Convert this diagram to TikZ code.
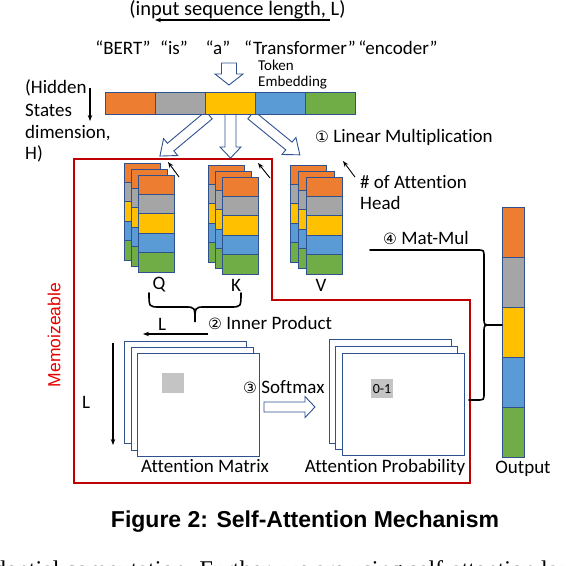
\documentclass[tikz,border=0pt]{standalone}
\usepackage{fontspec}
\setmainfont{Carlito}[Ligatures={NoCommon}]
\newfontfamily\symf{DejaVu Sans}
\newfontfamily\arialf{Liberation Sans}
\newfontfamily\timesf{Liberation Serif}
\usetikzlibrary{arrows.meta}
\definecolor{cO}{HTML}{ED7D31}
\definecolor{cG}{HTML}{A5A5A5}
\definecolor{cY}{HTML}{FFC000}
\definecolor{cB}{HTML}{5B9BD5}
\definecolor{cN}{HTML}{70AD47}
\definecolor{edge}{HTML}{2F528F}
\definecolor{boxred}{HTML}{C00000}
\definecolor{memored}{HTML}{E60000}
\definecolor{lgray}{HTML}{C4C4C4}
\newcommand\cnum[1]{{\symf\fontsize{15.5}{16}\selectfont #1}}
\newcommand\mystack[2]{\foreach \cc [count=\ii from 0] in {cO,cG,cY,cB,cN}{\draw[seg,fill=\cc] ({#1},{#2+\ii*19.4}) rectangle ++(36,19.4);}}
\newcommand\harr[7]{\begin{scope}[shift={(#1,#2)},rotate=#3]\draw[hollow] (0,-#5) -- ({#4-#7},-#5) -- ({#4-#7},-#6) -- (#4,0) -- ({#4-#7},#6) -- ({#4-#7},#5) -- (0,#5) -- cycle;\end{scope}}
\begin{document}
\begin{tikzpicture}[x=1pt,y=-1pt,
  txt/.style={inner sep=0pt,font=\fontsize{19}{22}\selectfont},
  small/.style={inner sep=0pt,font=\fontsize{15}{18}\selectfont},
  seg/.style={draw=edge,line width=0.9pt},
  hollow/.style={draw=edge,fill=white,line width=0.9pt,line join=miter},
  sheet/.style={draw=edge,fill=white,line width=0.9pt},
  redbox/.style={draw=boxred,line width=1.5pt},
  ptr/.style={black,line width=0.9pt,-{Stealth[length=6pt,width=4.5pt]}},
  dimarrow/.style={black,line width=1.1pt,-{Stealth[length=6pt,width=4.5pt]}},
  bracepath/.style={black,line width=1.6pt,line cap=round}]
\clip (0,0) rectangle (566,566);
\fill[white] (0,0) rectangle (566,566);

% top labels
\node[inner sep=0pt,font=\fontsize{20.5}{24}\selectfont] (seqlen) at (237.5,10) {(input sequence length, L)};
\coordinate (seqA) at (330,20);
\coordinate (seqB) at (155,20);
\draw[dimarrow] (seqA) -- (seqB);

\node[txt] (w1) at (123,48) {“BERT”};
\node[txt] (w2) at (174,48) {“is”};
\node[txt] (w3) at (218,48) {“a”};
\node[txt] (w4) at (300,48) {“Transformer”};
\node[txt] (w5) at (398,48) {“encoder”};

\harr{229}{63}{-90}{22}{7.5}{14}{11}
\node[small,anchor=west] (tok1) at (258,65) {Token};
\node[small,anchor=west] (tok2) at (258,83) {Embedding};

\node[txt,anchor=west] (h1) at (25,88) {(Hidden};
\node[txt,anchor=west] (h2) at (25,110) {States};
\node[txt,anchor=west] (h3) at (25,133) {dimension,};
\node[txt,anchor=west] (h4) at (25,154) {H)};
\coordinate (hA) at (90,88);
\coordinate (hB) at (90,121);
\draw[dimarrow] (hA) -- (hB);

% red memoizeable region
\draw[redbox] (74,159) -- (272,159) -- (272,300) -- (470,300) -- (470,483) -- (74,483) -- cycle;
\node[inner sep=0pt,rotate=90,text=memored,font=\arialf\fontsize{17.5}{20}\selectfont] (memo) at (54,335) {Memoizeable};

% projection arrows
\harr{209}{115}{219.9}{64}{5}{11}{14}
\harr{251}{115}{320.8}{63}{5}{11}{14}
\harr{230.5}{114}{-90}{44}{5.5}{10.5}{11}

% embedding bar
\foreach \cc [count=\ii from 0] in {cO,cG,cY,cB,cN}{\draw[seg,fill=\cc] ({105+\ii*50},92) rectangle ++(50,22);}

\node[txt,anchor=west] (lin) at (315,137) {\cnum{①} Linear Multiplication};

% Q K V stacks
\mystack{124}{163}\mystack{131}{169}\mystack{138}{175}
\mystack{208}{165}\mystack{215}{171}\mystack{222}{177}
\mystack{290}{165}\mystack{298}{171}\mystack{306}{177}

\coordinate (qa) at (179,177); \coordinate (qb) at (168,162);
\coordinate (ka) at (270,178); \coordinate (kb) at (258,163);
\coordinate (va) at (355,177); \coordinate (vb) at (343,161);
\draw[ptr] (qa) -- (qb);
\draw[ptr] (ka) -- (kb);
\draw[ptr] (va) -- (vb);

\node[txt,anchor=west] (heads1) at (360,182) {\# of Attention};
\node[txt,anchor=west] (heads2) at (360,203) {Head};

\node[txt] (Q) at (159,285) {Q};
\node[txt] (K) at (236,285) {K};
\node[txt] (V) at (321,285) {V};

% brace Q,K
\draw[bracepath] (149,293) .. controls (149,307) .. (160,307) -- (185,307) .. controls (195,307) .. (195,322) .. controls (195,307) .. (205,307) -- (230,307) .. controls (241,307) .. (241,293);
\node[txt] (Lh) at (162,324) {L};
\node[txt,anchor=west] (inner) at (208,323) {\cnum{②} Inner Product};
\coordinate (lA) at (208,334);
\coordinate (lB) at (143,334);
\draw[dimarrow] (lA) -- (lB);
\coordinate (vA) at (113,343);
\coordinate (vB) at (113,445);
\draw[dimarrow] (vA) -- (vB);
\node[txt] (Lv) at (86,402) {L};

% attention matrices
\draw[sheet] (124,341) rectangle ++(122,102);
\draw[sheet] (131,347) rectangle ++(122,103);
\draw[sheet] (137,353) rectangle ++(122,103);
\fill[lgray] (162,373) rectangle (184,393);
\node[txt] (am) at (205,466) {Attention Matrix};

\node[txt,anchor=west] (soft) at (243,387) {\cnum{③} Softmax};
\harr{264}{407}{0}{51}{5}{10.5}{10}

\draw[sheet] (329,339) rectangle ++(122,104);
\draw[sheet] (335,346) rectangle ++(122,103);
\draw[sheet] (342,353) rectangle ++(122,102);
\node[fill=lgray,minimum width=22pt,minimum height=19pt,inner sep=0pt,font=\fontsize{14}{15}\selectfont] (p01) at (382,388.5) {0-1};
\node[txt] (ap) at (385,467) {Attention Probability};

% output
\foreach \cc [count=\ii from 0] in {cO,cG,cY,cB,cN}{\draw[seg,fill=\cc] (502,{207+\ii*50}) rectangle ++(22,50);}
\node[txt] (out) at (523,469) {Output};

% Mat-Mul brace
\node[txt,anchor=west] (mm) at (383,238) {\cnum{④} Mat-Mul};
\draw[bracepath] (370,250) -- (477,250) .. controls (484,250) .. (484,257) -- (484,318) .. controls (484,325) .. (491,325) -- (502,325);
\draw[bracepath] (491,325) .. controls (484,325) .. (484,332) -- (484,393) .. controls (484,400) .. (477,400) -- (469,400);

% caption
\node[inner sep=0pt,font=\arialf\bfseries\fontsize{23}{26}\selectfont] (cap) at (305,522) {Figure 2: Self-Attention Mechanism};
\node[inner sep=0pt,anchor=base west,font=\timesf\fontsize{24}{28}\selectfont] (body) at (-6,577) {dential computation. Further, we are using self-attention layer};
\end{tikzpicture}
\end{document}
